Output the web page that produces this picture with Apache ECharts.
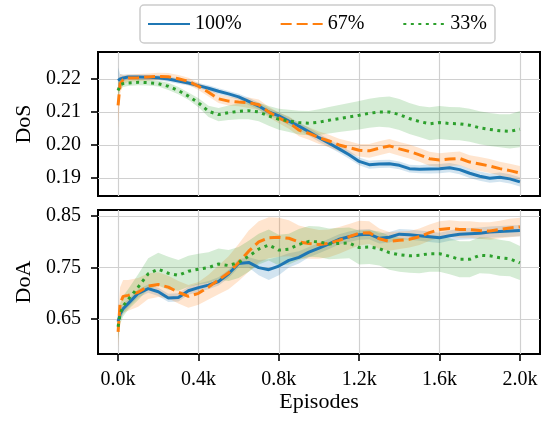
<!DOCTYPE html>
<html>
<head>
<meta charset="utf-8">
<script src="https://cdn.jsdelivr.net/npm/echarts@6/dist/echarts.min.js"></script>
<style>
  html, body { margin: 0; padding: 0; background: #fff; }
  #chart { width: 542px; height: 425px; }
</style>
</head>
<body>
<div id="chart"></div>
<script>
// episode positions the curves were read at
const episodes = [0, 10, 25, 50, 100, 150, 200, 250, 300, 350, 400, 450, 500, 550, 600, 650, 700, 750, 800, 850, 900,
  950, 1000, 1050, 1100, 1150, 1200, 1250, 1300, 1350, 1400, 1450, 1500, 1550, 1600, 1650, 1700, 1750, 1800, 1850, 1900, 1950, 2000]

// DoS (top panel)
const dos100 = [0.2195, 0.2200, 0.2203, 0.2206, 0.2206, 0.2205, 0.2204, 0.2200, 0.2194, 0.2188, 0.2180, 0.2172, 0.2163, 0.2155, 0.2146, 0.2132, 0.2118, 0.2100, 0.2088,
  0.2072, 0.2057, 0.2040, 0.2022, 0.2005, 0.1988, 0.1970, 0.1950, 0.1940, 0.1942, 0.1943, 0.1938, 0.1928, 0.1926, 0.1927, 0.1928, 0.1931, 0.1925, 0.1914,
  0.1905, 0.1899, 0.1902, 0.1897, 0.1888]
const dos67 = [0.2120, 0.2185, 0.2198, 0.2203, 0.2204, 0.2206, 0.2208, 0.2207, 0.2201, 0.2193, 0.2178, 0.2160, 0.2140, 0.2133, 0.2130, 0.2128, 0.2122, 0.2100, 0.2082,
  0.2068, 0.2045, 0.2035, 0.2022, 0.2012, 0.2000, 0.1992, 0.1984, 0.1982, 0.1990, 0.1997, 0.1988, 0.1980, 0.1970, 0.1958, 0.1954, 0.1957, 0.1959, 0.1948,
  0.1942, 0.1936, 0.1928, 0.1922, 0.1915]
const dos33 = [0.2165, 0.2183, 0.2186, 0.2188, 0.2190, 0.2189, 0.2186, 0.2178, 0.2165, 0.2148, 0.2128, 0.2102, 0.2092, 0.2098, 0.2102, 0.2104, 0.2100, 0.2088, 0.2078,
  0.2073, 0.2068, 0.2066, 0.2069, 0.2075, 0.2080, 0.2085, 0.2090, 0.2096, 0.2100, 0.2100, 0.2092, 0.2080, 0.2071, 0.2064, 0.2068, 0.2065, 0.2064, 0.2060,
  0.2052, 0.2047, 0.2043, 0.2041, 0.2048]
// half width of the shaded bands
const dos100Spread = [0.004, 0.0015, 0.001, 0.0008, 0.0008, 0.0008, 0.0008, 0.0008, 0.0008, 0.0008, 0.0008, 0.0009, 0.0009, 0.0009, 0.0009, 0.0011, 0.0011, 0.0011, 0.0011,
  0.0012, 0.0012, 0.0012, 0.0012, 0.0012, 0.0012, 0.0012, 0.0012, 0.0012, 0.0012, 0.0012, 0.0012, 0.0012, 0.0012, 0.0014, 0.0014, 0.0014, 0.0014, 0.0014,
  0.0014, 0.0014, 0.0014, 0.0014, 0.0014]
const dos67Spread = [0.007, 0.003, 0.0015, 0.0011, 0.0011, 0.0011, 0.0011, 0.0011, 0.0011, 0.0011, 0.0011, 0.0013, 0.0013, 0.0013, 0.0013, 0.0016, 0.0016, 0.0016, 0.0016,
  0.0019, 0.0019, 0.0019, 0.0019, 0.0019, 0.0019, 0.0019, 0.0019, 0.0021, 0.0021, 0.0021, 0.0021, 0.0021, 0.0021, 0.0021, 0.0021, 0.0021, 0.0021, 0.0021,
  0.0021, 0.0021, 0.0021, 0.0021, 0.0021]
const dos33Spread = [0.0025, 0.0015, 0.001, 0.0009, 0.0009, 0.0009, 0.0009, 0.0011, 0.0011, 0.0011, 0.0014, 0.0017, 0.002, 0.0022, 0.0024, 0.0026, 0.0028, 0.003, 0.0032,
  0.0034, 0.0036, 0.0037, 0.0039, 0.004, 0.0041, 0.0042, 0.0043, 0.0044, 0.0045, 0.0047, 0.0047, 0.0047, 0.0047, 0.005, 0.005, 0.005, 0.005, 0.005,
  0.005, 0.005, 0.005, 0.0052, 0.0055]

// DoA (bottom panel)
const doa100 = [0.645, 0.660, 0.670, 0.680, 0.700, 0.709, 0.703, 0.691, 0.692, 0.705, 0.711, 0.716, 0.723, 0.738, 0.758, 0.760, 0.750, 0.746, 0.753,
  0.764, 0.770, 0.780, 0.788, 0.796, 0.805, 0.810, 0.814, 0.815, 0.807, 0.809, 0.815, 0.814, 0.812, 0.810, 0.808, 0.812, 0.815, 0.816,
  0.817, 0.819, 0.820, 0.821, 0.822]
const doa67 = [0.625, 0.680, 0.694, 0.696, 0.702, 0.714, 0.717, 0.712, 0.702, 0.694, 0.700, 0.712, 0.726, 0.740, 0.760, 0.782, 0.800, 0.808, 0.809,
  0.807, 0.800, 0.797, 0.795, 0.797, 0.803, 0.810, 0.817, 0.818, 0.806, 0.801, 0.803, 0.805, 0.810, 0.818, 0.824, 0.826, 0.824, 0.824,
  0.822, 0.821, 0.824, 0.827, 0.829]
const doa33 = [0.635, 0.660, 0.675, 0.688, 0.712, 0.738, 0.747, 0.739, 0.735, 0.743, 0.747, 0.750, 0.757, 0.754, 0.760, 0.772, 0.786, 0.794, 0.784,
  0.786, 0.795, 0.801, 0.800, 0.796, 0.797, 0.798, 0.789, 0.790, 0.787, 0.779, 0.775, 0.773, 0.774, 0.777, 0.777, 0.772, 0.766, 0.766,
  0.774, 0.773, 0.769, 0.767, 0.759]
const doa100Spread = [0.02, 0.014, 0.01, 0.008, 0.008, 0.008, 0.008, 0.008, 0.008, 0.008, 0.008, 0.008, 0.008, 0.008, 0.008, 0.01, 0.015, 0.02, 0.018,
  0.014, 0.012, 0.01, 0.01, 0.01, 0.01, 0.01, 0.01, 0.01, 0.01, 0.01, 0.01, 0.01, 0.01, 0.01, 0.01, 0.01, 0.011, 0.011,
  0.011, 0.011, 0.011, 0.011, 0.011]
const doa67Spread = [0.03, 0.032, 0.032, 0.03, 0.028, 0.025, 0.024, 0.022, 0.022, 0.022, 0.022, 0.024, 0.028, 0.032, 0.036, 0.04, 0.04, 0.04, 0.038,
  0.035, 0.032, 0.03, 0.028, 0.027, 0.026, 0.025, 0.024, 0.022, 0.02, 0.018, 0.017, 0.016, 0.016, 0.016, 0.016, 0.016, 0.016, 0.016,
  0.016, 0.017, 0.017, 0.018, 0.018]
const doa33Spread = [0.025, 0.02, 0.02, 0.02, 0.025, 0.03, 0.032, 0.032, 0.03, 0.03, 0.03, 0.03, 0.03, 0.03, 0.03, 0.03, 0.03, 0.03, 0.03,
  0.03, 0.03, 0.03, 0.03, 0.03, 0.03, 0.03, 0.033, 0.033, 0.033, 0.033, 0.033, 0.033, 0.035, 0.035, 0.035, 0.035, 0.035, 0.035,
  0.035, 0.035, 0.035, 0.034, 0.033]

const xTicks = [0, 400, 800, 1200, 1600, 2000]
const dosTicks = [0.19, 0.20, 0.21, 0.22]
const doaTicks = [0.65, 0.75, 0.85]

const names = ['100%', '67%', '33%']
const colors = ['#1f77b4', '#ff7f0e', '#2ca02c']
const dashes = ['solid', [11, 5], [3, 4.5]]

const FONT = 'Liberation Serif'

// shaded band = one polygon built from (episode, mean -/+ spread) through the axis scales
function bandSeries(gridIdx, mean, spread, color) {
  const rows = episodes.map((e, i) => [e, mean[i] - spread[i], mean[i] + spread[i]])
  return {
    type: 'custom',
    xAxisIndex: gridIdx,
    yAxisIndex: gridIdx,
    silent: true,
    clip: true,
    z: 1,
    encode: { x: 0, y: [1, 2] },
    data: rows,
    renderItem: function (params, api) {
      if (params.dataIndex !== 0) return null
      const pts = []
      for (let i = 0; i < rows.length; i++) pts.push(api.coord([rows[i][0], rows[i][2]]))
      for (let i = rows.length - 1; i >= 0; i--) pts.push(api.coord([rows[i][0], rows[i][1]]))
      return {
        type: 'polygon',
        shape: { points: pts },
        style: { fill: color, opacity: 0.2 }
      }
    }
  }
}

function lineSeries(gridIdx, idx, mean) {
  return {
    name: names[idx],
    type: 'line',
    xAxisIndex: gridIdx,
    yAxisIndex: gridIdx,
    symbol: 'none',
    z: 3,
    lineStyle: { color: colors[idx], width: 3, type: dashes[idx], cap: 'butt' },
    itemStyle: { color: colors[idx] },
    data: episodes.map((e, i) => [e, mean[i]])
  }
}

function xAxisCfg(gridIdx, showLabels) {
  return {
    type: 'value',
    gridIndex: gridIdx,
    min: -100,
    max: 2100,
    name: showLabels ? 'Episodes' : '',
    nameLocation: 'middle',
    nameGap: 37,
    nameTextStyle: { fontFamily: FONT, fontSize: 22, color: '#000' },
    axisLine: { show: false, onZero: false },
    axisTick: { show: showLabels, customValues: xTicks, length: 7, lineStyle: { color: '#000', width: 1.6 } },
    axisLabel: {
      show: showLabels,
      customValues: xTicks,
      margin: 16,
      fontFamily: FONT,
      fontSize: 20,
      color: '#000',
      formatter: (v) => (v / 1000).toFixed(1) + 'k'
    },
    splitLine: { show: true, lineStyle: { color: '#d0d0d0', width: 1.2 } }
  }
}

function yAxisCfg(gridIdx, name, min, max, ticks, digits) {
  return {
    type: 'value',
    gridIndex: gridIdx,
    min: min,
    max: max,
    name: name,
    nameLocation: 'middle',
    nameGap: 61,
    nameTextStyle: { fontFamily: FONT, fontSize: 22, color: '#000' },
    axisLine: { show: false, onZero: false },
    axisTick: { show: true, customValues: ticks, length: 7, lineStyle: { color: '#000', width: 1.6 } },
    axisLabel: {
      customValues: ticks,
      margin: 17,
      fontFamily: FONT,
      fontSize: 20,
      color: '#000',
      formatter: (v) => v.toFixed(digits)
    },
    splitLine: { show: true, lineStyle: { color: '#d0d0d0', width: 1.2 } }
  }
}

const chart = echarts.init(document.getElementById('chart'))

const series = [
  bandSeries(0, dos100, dos100Spread, colors[0]),
  bandSeries(0, dos67, dos67Spread, colors[1]),
  bandSeries(0, dos33, dos33Spread, colors[2]),
  bandSeries(1, doa100, doa100Spread, colors[0]),
  bandSeries(1, doa67, doa67Spread, colors[1]),
  bandSeries(1, doa33, doa33Spread, colors[2]),
  lineSeries(0, 0, dos100),
  lineSeries(0, 1, dos67),
  lineSeries(0, 2, dos33),
  lineSeries(1, 0, doa100),
  lineSeries(1, 1, doa67),
  lineSeries(1, 2, doa33)
]

const option = {
  animation: false,
  backgroundColor: '#fff',
  legend: {
    data: names,
    left: 140,
    top: 5,
    padding: [9, 8, 9, 7],
    itemGap: 38,
    itemWidth: 42,
    itemHeight: 14,
    itemStyle: { opacity: 0 },
    borderColor: '#cccccc',
    borderWidth: 1.5,
    borderRadius: 4,
    backgroundColor: '#fff',
    textStyle: { fontFamily: FONT, fontSize: 20, color: '#000' }
  },
  grid: [
    { left: 98, top: 52, right: 2, height: 144, show: true, borderColor: '#000', borderWidth: 2, backgroundColor: 'transparent' },
    { left: 98, top: 210, right: 2, height: 144, show: true, borderColor: '#000', borderWidth: 2, backgroundColor: 'transparent' }
  ],
  xAxis: [xAxisCfg(0, false), xAxisCfg(1, true)],
  yAxis: [
    yAxisCfg(0, 'DoS', 0.1845, 0.2282, dosTicks, 2),
    yAxisCfg(1, 'DoA', 0.582, 0.862, doaTicks, 2)
  ],
  series: series
}

chart.setOption(option)
</script>
</body>
</html>
